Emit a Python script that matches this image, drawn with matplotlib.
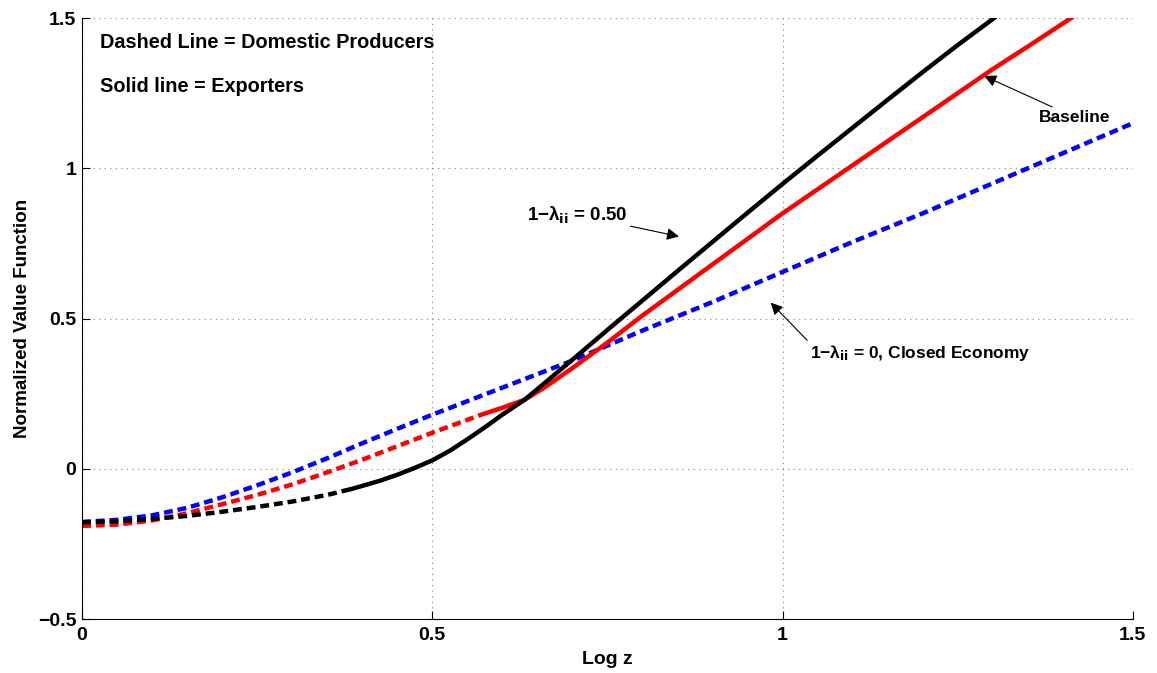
import matplotlib.pyplot as plt
import numpy as np

plt.rcParams['font.family'] = ['Liberation Sans', 'DejaVu Sans']
plt.rcParams['font.weight'] = 'bold'
plt.rcParams['mathtext.default'] = 'regular'

# closed economy (blue, dashed only)
x_blue = [0, 0.05, 0.1, 0.15, 0.2, 0.25, 0.3, 0.35, 0.4, 0.45, 0.5, 0.6, 0.7,
          0.8, 0.9, 1.0, 1.1, 1.2, 1.3, 1.4, 1.5]
y_blue = [-0.177, -0.17, -0.155, -0.13, -0.095, -0.055, -0.012, 0.035, 0.085,
          0.133, 0.18, 0.27, 0.36, 0.46, 0.555, 0.655, 0.755, 0.85, 0.95,
          1.05, 1.15]

# baseline (red): domestic producers then exporters
x_red_d = [0, 0.05, 0.1, 0.15, 0.2, 0.25, 0.3, 0.35, 0.4, 0.45, 0.5, 0.57]
y_red_d = [-0.19, -0.186, -0.172, -0.148, -0.118, -0.087, -0.052, -0.012,
           0.03, 0.075, 0.12, 0.18]
x_red_s = [0.57, 0.6, 0.632, 0.66, 0.7, 0.75, 0.8, 0.85, 0.9, 0.95, 1.0, 1.05,
           1.1, 1.15, 1.2, 1.25, 1.3, 1.35, 1.412]
y_red_s = [0.18, 0.203, 0.23, 0.27, 0.335, 0.42, 0.51, 0.595, 0.68, 0.765,
           0.85, 0.93, 1.01, 1.09, 1.17, 1.25, 1.33, 1.405, 1.5]

# 1-lambda_ii = 0.50 (black)
x_blk_d = [0, 0.05, 0.1, 0.15, 0.2, 0.25, 0.3, 0.35, 0.385]
y_blk_d = [-0.178, -0.175, -0.167, -0.157, -0.143, -0.127, -0.109, -0.087,
           -0.067]
x_blk_s = [0.385, 0.4, 0.425, 0.45, 0.475, 0.5, 0.525, 0.55, 0.575, 0.6, 0.632,
           0.65, 0.7, 0.75, 0.8, 0.85, 0.9, 0.95, 1.0, 1.05, 1.1, 1.15, 1.2,
           1.25, 1.302]
y_blk_s = [-0.067, -0.057, -0.04, -0.02, 0.003, 0.028, 0.06, 0.098, 0.138,
           0.18, 0.23, 0.265, 0.363, 0.462, 0.56, 0.658, 0.755, 0.852, 0.948,
           1.042, 1.135, 1.228, 1.32, 1.41, 1.5]

fig = plt.figure(figsize=(11.57, 6.73), dpi=100)
ax = fig.add_axes([0.0709, 0.0802, 0.9082, 0.8930])

lw = 3.2
dash = (2.0, 1.1)
ax.plot(x_blue, y_blue, color='#0000ff', lw=lw, dashes=dash)
ax.plot(x_red_d, y_red_d, color='#ff0000', lw=lw, dashes=dash)
ax.plot(x_red_s, y_red_s, color='#ff0000', lw=lw)
ax.plot(x_blk_d, y_blk_d, color='k', lw=lw, dashes=dash)
ax.plot(x_blk_s, y_blk_s, color='k', lw=lw)

ax.set_xlim(0, 1.5)
ax.set_ylim(-0.5, 1.5)
ax.set_xticks([0, 0.5, 1, 1.5])
ax.set_xticklabels(['0', '0.5', '1', '1.5'])
ax.set_yticks([-0.5, 0, 0.5, 1, 1.5])
ax.set_yticklabels(['\u22120.5', '0', '0.5', '1', '1.5'])
ax.tick_params(direction='in', length=6, labelsize=14)
ax.tick_params(axis='x', pad=6)
ax.tick_params(axis='y', pad=4)
ax.grid(True, linestyle=(0, (1, 4)), color='#808080', lw=0.8)
ax.spines['top'].set_visible(False)
ax.spines['right'].set_visible(False)

ax.set_xlabel('Log z', fontsize=14, fontweight='bold', labelpad=5)
ax.set_ylabel('Normalized Value Function', fontsize=13.5, fontweight='bold',
              labelpad=5)

ax.text(0.026, 1.417, 'Dashed Line = Domestic Producers', fontsize=14.3,
        fontweight='bold', va='center')
ax.text(0.026, 1.273, 'Solid line = Exporters', fontsize=14.3,
        fontweight='bold', va='center')

arrow = dict(arrowstyle='-|>', color='k', lw=0.8, mutation_scale=18,
             shrinkA=0, shrinkB=0)
ax.annotate('Baseline', xy=(1.288, 1.307), xytext=(1.417, 1.17), fontsize=12.5,
            fontweight='bold', ha='center', va='center', arrowprops=arrow)
ax.annotate(r'1$-\lambda_{\mathbf{ii}}$ = 0.50', xy=(0.852, 0.773),
            xytext=(0.779, 0.845), fontsize=13.5, fontweight='bold',
            ha='right', va='center', arrowprops=arrow)
ax.annotate(r'1$-\lambda_{\mathbf{ii}}$ = 0, Closed Economy',
            xy=(0.983, 0.553), xytext=(1.039, 0.385), fontsize=12.5,
            fontweight='bold', ha='left', va='center',
            arrowprops=dict(arrow, relpos=(0, 1)))

fig.savefig('out.png', dpi=100)
